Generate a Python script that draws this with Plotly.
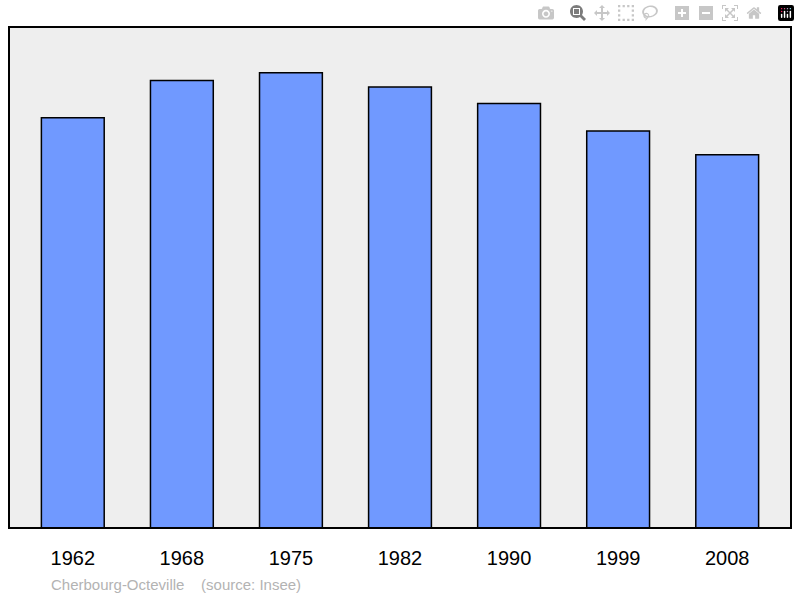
import plotly.graph_objects as go

years = ["1962", "1968", "1975", "1982", "1990", "1999", "2008"]
population = [43733, 47708, 48513, 46993, 45241, 42318, 39774]
labels = ["43 733", "47 708", "48 513", "46 993", "45 241", "42 318", "39 774"]

fig = go.Figure(go.Bar(
    x=years, y=population,
    marker=dict(color="#7099ff", line=dict(color="black", width=1.5)),
))
ann = [dict(x=yr, y=v, text=t, showarrow=False, yanchor="bottom", yshift=10,
            font=dict(size=18, color="black")) for yr, v, t in zip(years, population, labels)]
ann.append(dict(text="Cherbourg-Octeville    (source: Insee)", xref="paper", yref="paper",
                x=0.051, y=-0.112, xanchor="left", yanchor="middle", showarrow=False,
                font=dict(size=15, color="#b3b3b3")))
fig.update_layout(
    width=800, height=598, margin=dict(l=9, r=9, t=27, b=70),
    paper_bgcolor="white", plot_bgcolor="#eeeeee",
    font=dict(family="Liberation Sans, Arial, sans-serif"),
    bargap=0.424, showlegend=False,
    xaxis=dict(range=[-0.585, 6.585], showgrid=False, ticks="", ticklabelstandoff=16,
               tickfont=dict(size=20, color="black")),
    yaxis=dict(range=[0, 53400], visible=False),
    shapes=[dict(type="rect", xref="paper", yref="paper", x0=0, x1=1, y0=0, y1=1,
                 line=dict(color="black", width=2), layer="above")],
    annotations=ann,
)
fig.write_html("out.html")
with open("out.html") as f:
    html = f.read()
html = html.replace("<body>", '<body style="margin:0">', 1)
with open("out.html", "w") as f:
    f.write(html)
